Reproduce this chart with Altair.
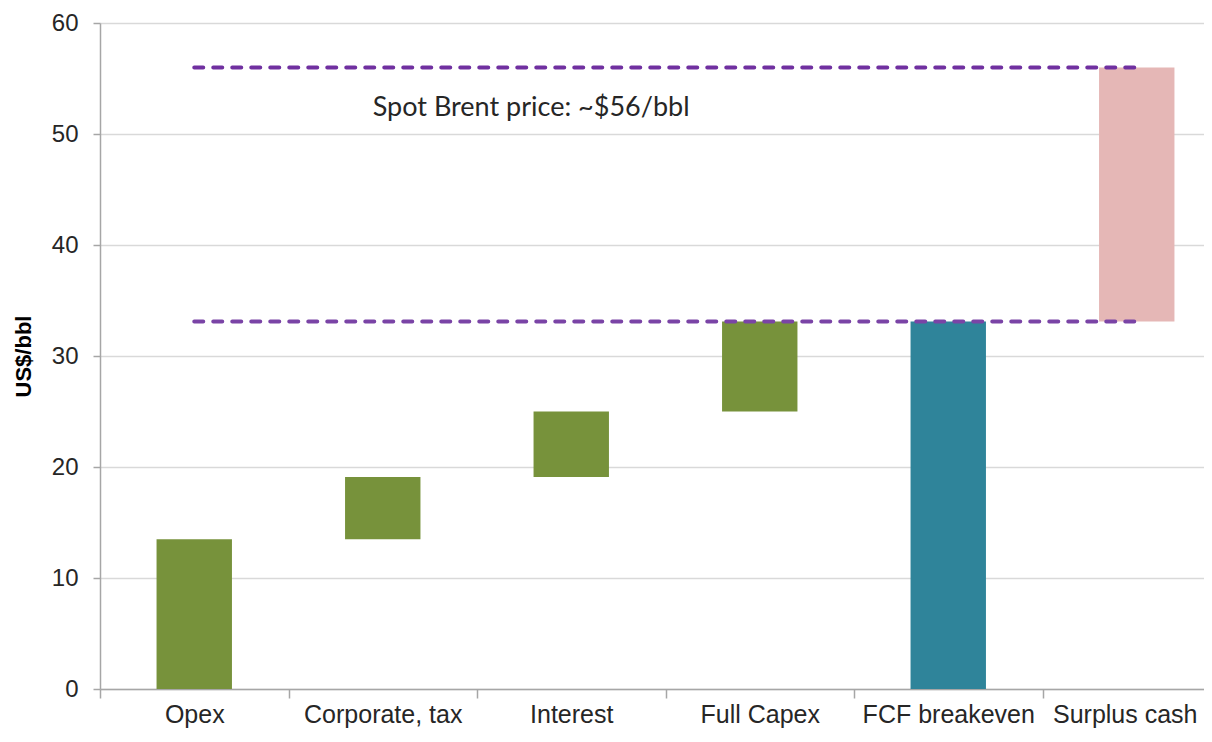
import altair as alt
import pandas as pd

# ---- data ----
categories = ["Opex", "Corporate, tax", "Interest", "Full Capex", "FCF breakeven", "Surplus cash"]
bar_low = [0.0, 13.5, 19.1, 25.0, 0.0, 33.1]
bar_high = [13.5, 19.1, 25.0, 33.1, 33.1, 56.0]
bar_colors = ["#77923B", "#77923B", "#77923B", "#77923B", "#2F849A", "#E5B7B6"]

line_names = ["Spot Brent price", "FCF breakeven"]
line_values = [56.0, 33.1]
line_colors = ["#7030A0", "#7A44A6"]

note_text = ["Spot Brent price: ~$56/bbl"]
note_category = ["Corporate, tax"]
note_value = [52.3]

y_ticks = [0, 10, 20, 30, 40, 50, 60]

# ---- tables ----
bars_df = pd.DataFrame({"category": categories, "low": bar_low, "high": bar_high, "color": bar_colors})
lines_df = pd.DataFrame(
    [
        {"category": c, "low": v, "name": n, "color": col}
        for n, v, col in zip(line_names, line_values, line_colors)
        for c in (categories[0], categories[-1])
    ]
)
note_df = pd.DataFrame({"category": note_category, "low": note_value, "text": note_text})

AXIS_GRAY = "#a6a6a6"
TEXT = "#262626"
FONT = "Liberation Sans"

x_scale = alt.Scale(domain=categories, range=[0, 1131], paddingInner=0, paddingOuter=0)
y_scale = alt.Scale(domain=[0, 60], nice=False)

x_axis = alt.Axis(
    title=None,
    labelAngle=0,
    tickBand="extent",
    tickSize=9,
    tickColor=AXIS_GRAY,
    tickWidth=1.5,
    domainColor=AXIS_GRAY,
    domainWidth=1.5,
    labelFont=FONT,
    labelFontSize=25,
    labelColor=TEXT,
    labelPadding=4,
    grid=False,
    labelOffset={"condition": {"test": "datum.value === 'Surplus cash'", "value": -12}, "value": 0},
)
y_axis = alt.Axis(
    values=y_ticks,
    title="US$/bbl",
    titleFont=FONT,
    titleFontSize=22,
    titleFontWeight="bold",
    titleColor="#000000",
    titlePadding=16,
    tickSize=7,
    tickColor=AXIS_GRAY,
    tickWidth=1.5,
    domainColor=AXIS_GRAY,
    domainWidth=1.5,
    labelFont=FONT,
    labelFontSize=24,
    labelColor=TEXT,
    labelPadding=15,
    grid=True,
    gridColor="#d9d9d9",
    gridWidth=1.5,
)

X = alt.X("category:N", scale=x_scale, sort=categories, axis=x_axis)
Y = alt.Y("low:Q", scale=y_scale, axis=y_axis)

bars = alt.Chart(bars_df).mark_bar(width=alt.RelativeBandSize(0.4)).encode(
    x=X,
    y=Y,
    y2="high:Q",
    color=alt.Color("color:N", scale=None),
)

lines = alt.Chart(lines_df).mark_line(strokeWidth=4, strokeDash=[9, 10], strokeCap="round").encode(
    x=X,
    y=Y,
    detail="name:N",
    color=alt.Color("color:N", scale=None),
)

note = alt.Chart(note_df).mark_text(
    align="left", baseline="middle", dx=-10, font="Lato", fontSize=27, color=TEXT
).encode(
    x=X,
    y=Y,
    text="text:N",
)

chart = (
    alt.layer(bars, lines, note)
    .properties(
        width=1104,
        height=666,
        autosize=alt.AutoSizeParams(type="none"),
        padding={"left": 92, "top": 15, "right": 0, "bottom": 40},
        background="white",
    )
    .configure_view(stroke=None)
)

chart.save("out.html", embed_options={"renderer": "svg", "actions": False})
